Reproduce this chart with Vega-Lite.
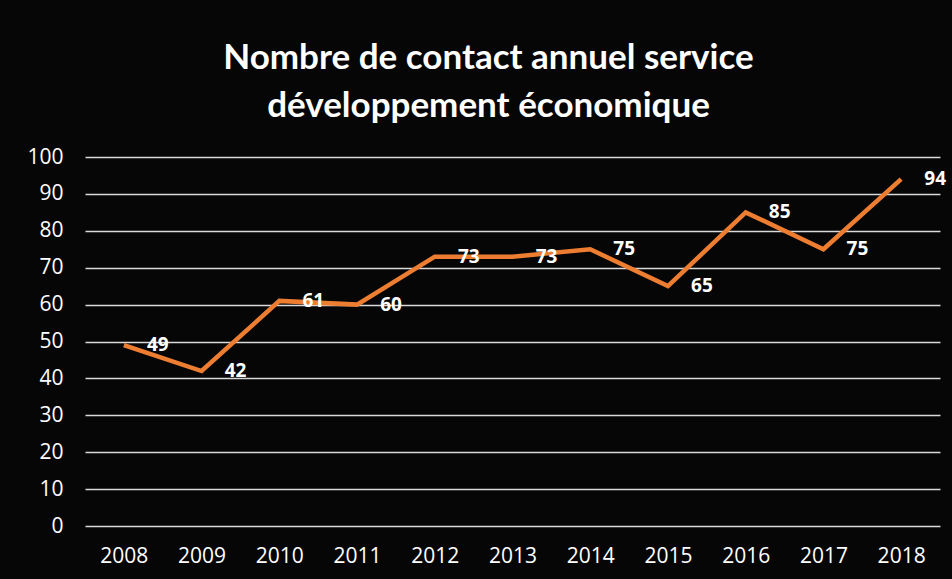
{
  "$schema": "https://vega.github.io/schema/vega-lite/v6.json",
  "autosize": "none",
  "width": 855,
  "height": 369,
  "padding": {"left": 85, "top": 157, "right": 12, "bottom": 53},
  "background": "#060606",
  "title": {
    "text": ["Nombre de contact annuel service", "développement économique"],
    "color": "white",
    "font": "Lato",
    "fontWeight": "bold",
    "fontSize": 35,
    "lineHeight": 48,
    "anchor": "middle",
    "dx": -24,
    "offset": 22
  },
  "config": {
    "view": {"stroke": null},
    "axis": {"labelFont": "Open Sans", "labelColor": "white", "labelFontSize": 21}
  },
  "data": {
    "values": [
      {"year": "2008", "value": 49},
      {"year": "2009", "value": 42},
      {"year": "2010", "value": 61},
      {"year": "2011", "value": 60},
      {"year": "2012", "value": 73},
      {"year": "2013", "value": 73},
      {"year": "2014", "value": 75},
      {"year": "2015", "value": 65},
      {"year": "2016", "value": 85},
      {"year": "2017", "value": 75},
      {"year": "2018", "value": 94}
    ]
  },
  "encoding": {
    "x": {
      "field": "year", "type": "ordinal",
      "scale": {"type": "point", "padding": 0.5},
      "axis": {"title": null, "labelAngle": 0, "domain": false, "ticks": false, "labelPadding": 19, "grid": false}
    },
    "y": {
      "field": "value", "type": "quantitative",
      "scale": {"domain": [0, 100]},
      "axis": {"title": null, "values": [0,10,20,30,40,50,60,70,80,90,100], "domain": false, "ticks": false, "labelPadding": 22, "gridColor": "#d9d9d9", "gridWidth": 1.5, "gridOpacity": 1}
    }
  },
  "layer": [
    {"mark": {"type": "line", "color": "#ED7D31", "strokeWidth": 4.5}},
    {
      "mark": {"type": "text", "color": "white", "font": "Open Sans", "fontWeight": "bold", "fontSize": 19, "dx": 34, "baseline": "middle", "align": "center"},
      "encoding": {"text": {"field": "value", "type": "quantitative"}}
    }
  ]
}
